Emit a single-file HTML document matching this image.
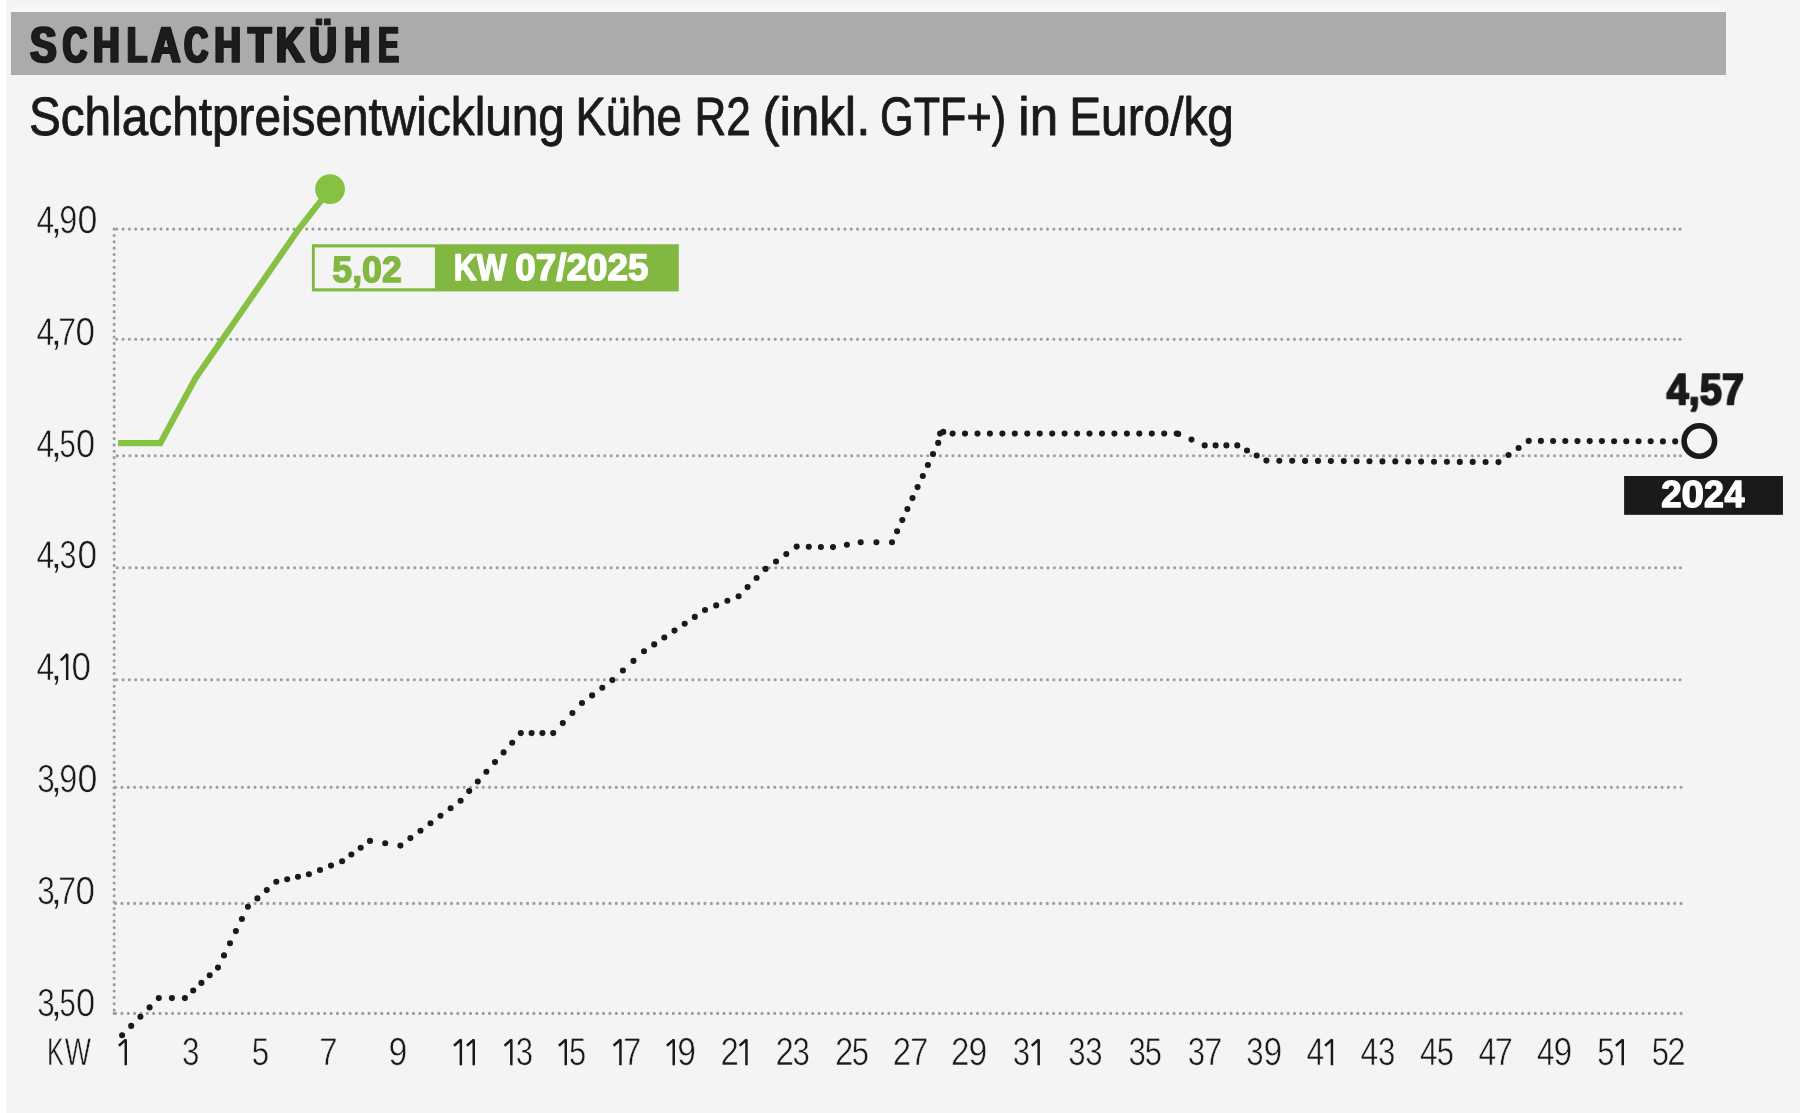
<!DOCTYPE html>
<html lang="de">
<head>
<meta charset="utf-8">
<title>Schlachtkühe – Schlachtpreisentwicklung</title>
<style>html,body{margin:0;padding:0;background:#f4f4f4;}body{width:1800px;height:1113px;overflow:hidden;font-family:"Liberation Sans",sans-serif;}svg{display:block;will-change:transform;}</style>
</head>
<body>
<svg width="1800" height="1113" viewBox="0 0 1800 1113" font-family="'Liberation Sans', sans-serif" text-rendering="geometricPrecision">
<rect width="1800" height="1113" fill="#f4f4f4"/>
<g opacity="0.999">
<defs><filter id="hd" x="-5%" y="-20%" width="110%" height="140%"><feMorphology operator="dilate" radius="1 0"/></filter></defs>
<rect x="0" y="0" width="6.5" height="1113" fill="#ffffff"/>
<rect x="11" y="6.5" width="1715" height="6" fill="#faf8f6"/>
<rect x="11" y="12" width="1715" height="63" fill="#ababab"/>
<g filter="url(#hd)">
<text transform="translate(30.32 61.50) scale(0.7838 1)" font-size="50.18" font-weight="700" fill="#1a1a1a" stroke="#1a1a1a" stroke-width="1.4" stroke-linejoin="round" vector-effect="non-scaling-stroke">S</text>
<text transform="translate(62.76 61.50) scale(0.6693 1)" font-size="50.18" font-weight="700" fill="#1a1a1a" stroke="#1a1a1a" stroke-width="1.4" stroke-linejoin="round" vector-effect="non-scaling-stroke">C</text>
<text transform="translate(93.14 61.50) scale(0.7259 1)" font-size="50.18" font-weight="700" fill="#1a1a1a" stroke="#1a1a1a" stroke-width="1.4" stroke-linejoin="round" vector-effect="non-scaling-stroke">H</text>
<text transform="translate(127.09 61.50) scale(0.6533 1)" font-size="50.18" font-weight="700" fill="#1a1a1a" stroke="#1a1a1a" stroke-width="1.4" stroke-linejoin="round" vector-effect="non-scaling-stroke">L</text>
<text transform="translate(151.60 61.50) scale(0.7971 1)" font-size="50.18" font-weight="700" fill="#1a1a1a" stroke="#1a1a1a" stroke-width="1.4" stroke-linejoin="round" vector-effect="non-scaling-stroke">A</text>
<text transform="translate(184.28 61.50) scale(0.6572 1)" font-size="50.18" font-weight="700" fill="#1a1a1a" stroke="#1a1a1a" stroke-width="1.4" stroke-linejoin="round" vector-effect="non-scaling-stroke">C</text>
<text transform="translate(214.44 61.50) scale(0.7259 1)" font-size="50.18" font-weight="700" fill="#1a1a1a" stroke="#1a1a1a" stroke-width="1.4" stroke-linejoin="round" vector-effect="non-scaling-stroke">H</text>
<text transform="translate(248.32 61.50) scale(0.7498 1)" font-size="50.18" font-weight="700" fill="#1a1a1a" stroke="#1a1a1a" stroke-width="1.4" stroke-linejoin="round" vector-effect="non-scaling-stroke">T</text>
<text transform="translate(276.06 61.50) scale(0.7786 1)" font-size="50.18" font-weight="700" fill="#1a1a1a" stroke="#1a1a1a" stroke-width="1.4" stroke-linejoin="round" vector-effect="non-scaling-stroke">K</text>
<text transform="translate(309.43 61.50) scale(0.7540 1)" font-size="50.18" font-weight="700" fill="#1a1a1a" stroke="#1a1a1a" stroke-width="1.4" stroke-linejoin="round" vector-effect="non-scaling-stroke">Ü</text>
<text transform="translate(344.51 61.50) scale(0.7055 1)" font-size="50.18" font-weight="700" fill="#1a1a1a" stroke="#1a1a1a" stroke-width="1.4" stroke-linejoin="round" vector-effect="non-scaling-stroke">H</text>
<text transform="translate(378.56 61.50) scale(0.6014 1)" font-size="50.18" font-weight="700" fill="#1a1a1a" stroke="#1a1a1a" stroke-width="1.4" stroke-linejoin="round" vector-effect="non-scaling-stroke">E</text>
</g>
<text transform="translate(28.90 134.55) scale(0.8840 1)" font-size="54.0" fill="#1a1a1a" stroke="#1a1a1a" stroke-width="0.9" stroke-linejoin="round" vector-effect="non-scaling-stroke">Schlachtpreisentwicklung</text>
<text transform="translate(575.39 134.55) scale(0.8430 1)" font-size="54.0" fill="#1a1a1a" stroke="#1a1a1a" stroke-width="0.9" stroke-linejoin="round" vector-effect="non-scaling-stroke">Kühe</text>
<text transform="translate(694.52 134.55) scale(0.8151 1)" font-size="54.0" fill="#1a1a1a" stroke="#1a1a1a" stroke-width="0.9" stroke-linejoin="round" vector-effect="non-scaling-stroke">R2</text>
<text transform="translate(762.56 134.55) scale(0.9460 1)" font-size="54.0" fill="#1a1a1a" stroke="#1a1a1a" stroke-width="0.9" stroke-linejoin="round" vector-effect="non-scaling-stroke">(inkl.</text>
<text transform="translate(880.09 134.55) scale(0.8002 1)" font-size="54.0" fill="#1a1a1a" stroke="#1a1a1a" stroke-width="0.9" stroke-linejoin="round" vector-effect="non-scaling-stroke">GTF+)</text>
<text transform="translate(1018.30 134.55) scale(0.9475 1)" font-size="54.0" fill="#1a1a1a" stroke="#1a1a1a" stroke-width="0.9" stroke-linejoin="round" vector-effect="non-scaling-stroke">in</text>
<text transform="translate(1069.21 134.55) scale(0.8850 1)" font-size="54.0" fill="#1a1a1a" stroke="#1a1a1a" stroke-width="0.9" stroke-linejoin="round" vector-effect="non-scaling-stroke">Euro/kg</text>
<g stroke="#9c9c9c" stroke-width="3.1" stroke-linecap="round" fill="none">
<path d="M114.15 229.1V1010.2" stroke-dasharray="0 6.34902"/>
<path d="M114.15 1013.4h0"/>
<path d="M116.73 229.1H1674.42" stroke-dasharray="0 6.33187"/>
<path d="M1680.0 229.1h0"/>
<path d="M116.73 339.3H1674.42" stroke-dasharray="0 6.33187"/>
<path d="M1680.0 339.3h0"/>
<path d="M117.27 455.8H1674.87" stroke-dasharray="0 6.33150"/>
<path d="M1680.4 455.8h0"/>
<path d="M117.27 567.7H1674.87" stroke-dasharray="0 6.33150"/>
<path d="M1680.4 567.7h0"/>
<path d="M116.73 679.7H1674.42" stroke-dasharray="0 6.33187"/>
<path d="M1680.0 679.7h0"/>
<path d="M115.6 787.3H1681.11" stroke-dasharray="0 6.33789"/>
<path d="M115.6 903.4H1681.11" stroke-dasharray="0 6.33789"/>
<path d="M115.6 1013.4H1681.11" stroke-dasharray="0 6.33789"/>
</g>
<text transform="translate(36.58 233.20) scale(0.8175 1)" font-size="39" fill="#1a1a1a" stroke="#f4f4f4" stroke-width="0.55" vector-effect="non-scaling-stroke">4</text>
<text transform="translate(49.94 233.20) scale(1.1571 1)" font-size="39" fill="#1a1a1a" stroke="#f4f4f4" stroke-width="0.55" vector-effect="non-scaling-stroke">,</text>
<text transform="translate(59.16 233.20) scale(0.8316 1)" font-size="39" fill="#1a1a1a" stroke="#f4f4f4" stroke-width="0.55" vector-effect="non-scaling-stroke">9</text>
<text transform="translate(77.57 233.20) scale(0.9182 1)" font-size="39" fill="#1a1a1a" stroke="#f4f4f4" stroke-width="0.55" vector-effect="non-scaling-stroke">0</text>
<text transform="translate(36.58 344.60) scale(0.8175 1)" font-size="39" fill="#1a1a1a" stroke="#f4f4f4" stroke-width="0.55" vector-effect="non-scaling-stroke">4</text>
<text transform="translate(49.94 344.60) scale(1.1571 1)" font-size="39" fill="#1a1a1a" stroke="#f4f4f4" stroke-width="0.55" vector-effect="non-scaling-stroke">,</text>
<text transform="translate(58.32 344.60) scale(0.8216 1)" font-size="39" fill="#1a1a1a" stroke="#f4f4f4" stroke-width="0.55" vector-effect="non-scaling-stroke">7</text>
<text transform="translate(75.40 344.60) scale(0.8968 1)" font-size="39" fill="#1a1a1a" stroke="#f4f4f4" stroke-width="0.55" vector-effect="non-scaling-stroke">0</text>
<text transform="translate(36.58 457.00) scale(0.8175 1)" font-size="39" fill="#1a1a1a" stroke="#f4f4f4" stroke-width="0.55" vector-effect="non-scaling-stroke">4</text>
<text transform="translate(49.94 457.00) scale(1.1571 1)" font-size="39" fill="#1a1a1a" stroke="#f4f4f4" stroke-width="0.55" vector-effect="non-scaling-stroke">,</text>
<text transform="translate(59.53 457.00) scale(0.7503 1)" font-size="39" fill="#1a1a1a" stroke="#f4f4f4" stroke-width="0.55" vector-effect="non-scaling-stroke">5</text>
<text transform="translate(76.03 457.00) scale(0.8807 1)" font-size="39" fill="#1a1a1a" stroke="#f4f4f4" stroke-width="0.55" vector-effect="non-scaling-stroke">0</text>
<text transform="translate(36.58 568.30) scale(0.8175 1)" font-size="39" fill="#1a1a1a" stroke="#f4f4f4" stroke-width="0.55" vector-effect="non-scaling-stroke">4</text>
<text transform="translate(49.94 568.30) scale(1.1571 1)" font-size="39" fill="#1a1a1a" stroke="#f4f4f4" stroke-width="0.55" vector-effect="non-scaling-stroke">,</text>
<text transform="translate(59.56 568.30) scale(0.7827 1)" font-size="39" fill="#1a1a1a" stroke="#f4f4f4" stroke-width="0.55" vector-effect="non-scaling-stroke">3</text>
<text transform="translate(77.59 568.30) scale(0.9021 1)" font-size="39" fill="#1a1a1a" stroke="#f4f4f4" stroke-width="0.55" vector-effect="non-scaling-stroke">0</text>
<text transform="translate(36.58 679.90) scale(0.8175 1)" font-size="39" fill="#1a1a1a" stroke="#f4f4f4" stroke-width="0.55" vector-effect="non-scaling-stroke">4</text>
<text transform="translate(49.94 679.90) scale(1.1571 1)" font-size="39" fill="#1a1a1a" stroke="#f4f4f4" stroke-width="0.55" vector-effect="non-scaling-stroke">,</text>
<path d="M67.15 679.90V654.20L60.80 660.40" stroke="#1a1a1a" stroke-width="2.5" fill="none" stroke-linejoin="miter" stroke-miterlimit="2"/>
<text transform="translate(71.50 679.90) scale(0.8968 1)" font-size="39" fill="#1a1a1a" stroke="#f4f4f4" stroke-width="0.55" vector-effect="non-scaling-stroke">0</text>
<text transform="translate(37.22 792.40) scale(0.8097 1)" font-size="39" fill="#1a1a1a" stroke="#f4f4f4" stroke-width="0.55" vector-effect="non-scaling-stroke">3</text>
<text transform="translate(49.94 792.40) scale(1.1571 1)" font-size="39" fill="#1a1a1a" stroke="#f4f4f4" stroke-width="0.55" vector-effect="non-scaling-stroke">,</text>
<text transform="translate(59.16 792.40) scale(0.8316 1)" font-size="39" fill="#1a1a1a" stroke="#f4f4f4" stroke-width="0.55" vector-effect="non-scaling-stroke">9</text>
<text transform="translate(77.57 792.40) scale(0.9182 1)" font-size="39" fill="#1a1a1a" stroke="#f4f4f4" stroke-width="0.55" vector-effect="non-scaling-stroke">0</text>
<text transform="translate(37.22 903.70) scale(0.8097 1)" font-size="39" fill="#1a1a1a" stroke="#f4f4f4" stroke-width="0.55" vector-effect="non-scaling-stroke">3</text>
<text transform="translate(49.94 903.70) scale(1.1571 1)" font-size="39" fill="#1a1a1a" stroke="#f4f4f4" stroke-width="0.55" vector-effect="non-scaling-stroke">,</text>
<text transform="translate(58.32 903.70) scale(0.8216 1)" font-size="39" fill="#1a1a1a" stroke="#f4f4f4" stroke-width="0.55" vector-effect="non-scaling-stroke">7</text>
<text transform="translate(75.40 903.70) scale(0.8968 1)" font-size="39" fill="#1a1a1a" stroke="#f4f4f4" stroke-width="0.55" vector-effect="non-scaling-stroke">0</text>
<text transform="translate(37.22 1016.00) scale(0.8097 1)" font-size="39" fill="#1a1a1a" stroke="#f4f4f4" stroke-width="0.55" vector-effect="non-scaling-stroke">3</text>
<text transform="translate(49.94 1016.00) scale(1.1571 1)" font-size="39" fill="#1a1a1a" stroke="#f4f4f4" stroke-width="0.55" vector-effect="non-scaling-stroke">,</text>
<text transform="translate(59.53 1016.00) scale(0.7503 1)" font-size="39" fill="#1a1a1a" stroke="#f4f4f4" stroke-width="0.55" vector-effect="non-scaling-stroke">5</text>
<text transform="translate(76.03 1016.00) scale(0.8807 1)" font-size="39" fill="#1a1a1a" stroke="#f4f4f4" stroke-width="0.55" vector-effect="non-scaling-stroke">0</text>
<text transform="translate(47.12 1065.30) scale(0.6449 1)" font-size="39" fill="#1a1a1a" stroke="#f4f4f4" stroke-width="0.55" vector-effect="non-scaling-stroke">K</text>
<text transform="translate(64.86 1065.30) scale(0.7130 1)" font-size="39" fill="#1a1a1a" stroke="#f4f4f4" stroke-width="0.55" vector-effect="non-scaling-stroke">W</text>
<path d="M125.75 1065.30V1039.60L118.90 1045.80" stroke="#1a1a1a" stroke-width="2.5" fill="none" stroke-linejoin="miter" stroke-miterlimit="2"/>
<text transform="translate(182.12 1065.30) scale(0.8043 1)" font-size="39" fill="#1a1a1a" stroke="#f4f4f4" stroke-width="0.55" vector-effect="non-scaling-stroke">3</text>
<text transform="translate(251.65 1065.30) scale(0.8043 1)" font-size="39" fill="#1a1a1a" stroke="#f4f4f4" stroke-width="0.55" vector-effect="non-scaling-stroke">5</text>
<text transform="translate(319.37 1065.30) scale(0.8443 1)" font-size="39" fill="#1a1a1a" stroke="#f4f4f4" stroke-width="0.55" vector-effect="non-scaling-stroke">7</text>
<text transform="translate(388.40 1065.30) scale(0.8649 1)" font-size="39" fill="#1a1a1a" stroke="#f4f4f4" stroke-width="0.55" vector-effect="non-scaling-stroke">9</text>
<path d="M460.85 1065.30V1039.60L454.00 1045.80" stroke="#1a1a1a" stroke-width="2.5" fill="none" stroke-linejoin="miter" stroke-miterlimit="2"/>
<path d="M473.75 1065.30V1039.60L466.90 1045.80" stroke="#1a1a1a" stroke-width="2.5" fill="none" stroke-linejoin="miter" stroke-miterlimit="2"/>
<path d="M511.35 1065.30V1039.60L504.50 1045.80" stroke="#1a1a1a" stroke-width="2.5" fill="none" stroke-linejoin="miter" stroke-miterlimit="2"/>
<text transform="translate(515.63 1065.30) scale(0.7989 1)" font-size="39" fill="#1a1a1a" stroke="#f4f4f4" stroke-width="0.55" vector-effect="non-scaling-stroke">3</text>
<path d="M565.75 1065.30V1039.60L558.90 1045.80" stroke="#1a1a1a" stroke-width="2.5" fill="none" stroke-linejoin="miter" stroke-miterlimit="2"/>
<text transform="translate(568.96 1065.30) scale(0.7935 1)" font-size="39" fill="#1a1a1a" stroke="#f4f4f4" stroke-width="0.55" vector-effect="non-scaling-stroke">5</text>
<path d="M620.45 1065.30V1039.60L613.60 1045.80" stroke="#1a1a1a" stroke-width="2.5" fill="none" stroke-linejoin="miter" stroke-miterlimit="2"/>
<text transform="translate(623.19 1065.30) scale(0.8330 1)" font-size="39" fill="#1a1a1a" stroke="#f4f4f4" stroke-width="0.55" vector-effect="non-scaling-stroke">7</text>
<path d="M673.75 1065.30V1039.60L666.90 1045.80" stroke="#1a1a1a" stroke-width="2.5" fill="none" stroke-linejoin="miter" stroke-miterlimit="2"/>
<text transform="translate(677.31 1065.30) scale(0.8593 1)" font-size="39" fill="#1a1a1a" stroke="#f4f4f4" stroke-width="0.55" vector-effect="non-scaling-stroke">9</text>
<text transform="translate(720.55 1065.30) scale(0.8453 1)" font-size="39" fill="#1a1a1a" stroke="#f4f4f4" stroke-width="0.55" vector-effect="non-scaling-stroke">2</text>
<path d="M746.45 1065.30V1039.60L739.60 1045.80" stroke="#1a1a1a" stroke-width="2.5" fill="none" stroke-linejoin="miter" stroke-miterlimit="2"/>
<text transform="translate(775.45 1065.30) scale(0.8453 1)" font-size="39" fill="#1a1a1a" stroke="#f4f4f4" stroke-width="0.55" vector-effect="non-scaling-stroke">2</text>
<text transform="translate(792.43 1065.30) scale(0.7989 1)" font-size="39" fill="#1a1a1a" stroke="#f4f4f4" stroke-width="0.55" vector-effect="non-scaling-stroke">3</text>
<text transform="translate(835.05 1065.30) scale(0.8453 1)" font-size="39" fill="#1a1a1a" stroke="#f4f4f4" stroke-width="0.55" vector-effect="non-scaling-stroke">2</text>
<text transform="translate(851.86 1065.30) scale(0.7935 1)" font-size="39" fill="#1a1a1a" stroke="#f4f4f4" stroke-width="0.55" vector-effect="non-scaling-stroke">5</text>
<text transform="translate(892.75 1065.30) scale(0.8453 1)" font-size="39" fill="#1a1a1a" stroke="#f4f4f4" stroke-width="0.55" vector-effect="non-scaling-stroke">2</text>
<text transform="translate(910.29 1065.30) scale(0.8330 1)" font-size="39" fill="#1a1a1a" stroke="#f4f4f4" stroke-width="0.55" vector-effect="non-scaling-stroke">7</text>
<text transform="translate(951.05 1065.30) scale(0.8453 1)" font-size="39" fill="#1a1a1a" stroke="#f4f4f4" stroke-width="0.55" vector-effect="non-scaling-stroke">2</text>
<text transform="translate(968.51 1065.30) scale(0.8593 1)" font-size="39" fill="#1a1a1a" stroke="#f4f4f4" stroke-width="0.55" vector-effect="non-scaling-stroke">9</text>
<text transform="translate(1012.83 1065.30) scale(0.7989 1)" font-size="39" fill="#1a1a1a" stroke="#f4f4f4" stroke-width="0.55" vector-effect="non-scaling-stroke">3</text>
<path d="M1038.65 1065.30V1039.60L1031.80 1045.80" stroke="#1a1a1a" stroke-width="2.5" fill="none" stroke-linejoin="miter" stroke-miterlimit="2"/>
<text transform="translate(1068.13 1065.30) scale(0.7989 1)" font-size="39" fill="#1a1a1a" stroke="#f4f4f4" stroke-width="0.55" vector-effect="non-scaling-stroke">3</text>
<text transform="translate(1085.13 1065.30) scale(0.7989 1)" font-size="39" fill="#1a1a1a" stroke="#f4f4f4" stroke-width="0.55" vector-effect="non-scaling-stroke">3</text>
<text transform="translate(1128.43 1065.30) scale(0.7989 1)" font-size="39" fill="#1a1a1a" stroke="#f4f4f4" stroke-width="0.55" vector-effect="non-scaling-stroke">3</text>
<text transform="translate(1144.76 1065.30) scale(0.7935 1)" font-size="39" fill="#1a1a1a" stroke="#f4f4f4" stroke-width="0.55" vector-effect="non-scaling-stroke">5</text>
<text transform="translate(1187.73 1065.30) scale(0.7989 1)" font-size="39" fill="#1a1a1a" stroke="#f4f4f4" stroke-width="0.55" vector-effect="non-scaling-stroke">3</text>
<text transform="translate(1204.29 1065.30) scale(0.8330 1)" font-size="39" fill="#1a1a1a" stroke="#f4f4f4" stroke-width="0.55" vector-effect="non-scaling-stroke">7</text>
<text transform="translate(1246.13 1065.30) scale(0.7989 1)" font-size="39" fill="#1a1a1a" stroke="#f4f4f4" stroke-width="0.55" vector-effect="non-scaling-stroke">3</text>
<text transform="translate(1263.61 1065.30) scale(0.8593 1)" font-size="39" fill="#1a1a1a" stroke="#f4f4f4" stroke-width="0.55" vector-effect="non-scaling-stroke">9</text>
<text transform="translate(1306.39 1065.30) scale(0.8124 1)" font-size="39" fill="#1a1a1a" stroke="#f4f4f4" stroke-width="0.55" vector-effect="non-scaling-stroke">4</text>
<path d="M1331.95 1065.30V1039.60L1325.10 1045.80" stroke="#1a1a1a" stroke-width="2.5" fill="none" stroke-linejoin="miter" stroke-miterlimit="2"/>
<text transform="translate(1360.39 1065.30) scale(0.8124 1)" font-size="39" fill="#1a1a1a" stroke="#f4f4f4" stroke-width="0.55" vector-effect="non-scaling-stroke">4</text>
<text transform="translate(1378.03 1065.30) scale(0.7989 1)" font-size="39" fill="#1a1a1a" stroke="#f4f4f4" stroke-width="0.55" vector-effect="non-scaling-stroke">3</text>
<text transform="translate(1419.99 1065.30) scale(0.8124 1)" font-size="39" fill="#1a1a1a" stroke="#f4f4f4" stroke-width="0.55" vector-effect="non-scaling-stroke">4</text>
<text transform="translate(1436.76 1065.30) scale(0.7935 1)" font-size="39" fill="#1a1a1a" stroke="#f4f4f4" stroke-width="0.55" vector-effect="non-scaling-stroke">5</text>
<text transform="translate(1478.59 1065.30) scale(0.8124 1)" font-size="39" fill="#1a1a1a" stroke="#f4f4f4" stroke-width="0.55" vector-effect="non-scaling-stroke">4</text>
<text transform="translate(1494.69 1065.30) scale(0.8330 1)" font-size="39" fill="#1a1a1a" stroke="#f4f4f4" stroke-width="0.55" vector-effect="non-scaling-stroke">7</text>
<text transform="translate(1537.09 1065.30) scale(0.8124 1)" font-size="39" fill="#1a1a1a" stroke="#f4f4f4" stroke-width="0.55" vector-effect="non-scaling-stroke">4</text>
<text transform="translate(1553.61 1065.30) scale(0.8593 1)" font-size="39" fill="#1a1a1a" stroke="#f4f4f4" stroke-width="0.55" vector-effect="non-scaling-stroke">9</text>
<text transform="translate(1597.16 1065.30) scale(0.7935 1)" font-size="39" fill="#1a1a1a" stroke="#f4f4f4" stroke-width="0.55" vector-effect="non-scaling-stroke">5</text>
<path d="M1622.75 1065.30V1039.60L1615.90 1045.80" stroke="#1a1a1a" stroke-width="2.5" fill="none" stroke-linejoin="miter" stroke-miterlimit="2"/>
<text transform="translate(1651.66 1065.30) scale(0.7935 1)" font-size="39" fill="#1a1a1a" stroke="#f4f4f4" stroke-width="0.55" vector-effect="non-scaling-stroke">5</text>
<text transform="translate(1667.35 1065.30) scale(0.8453 1)" font-size="39" fill="#1a1a1a" stroke="#f4f4f4" stroke-width="0.55" vector-effect="non-scaling-stroke">2</text>
<path d="M122.1 1035.2h0M131.2 1025.9h0M140.4 1016.7h0M149.6 1007.4h0M158.8 998.1h0M171.9 998.1h0M184.9 998.1h0M193.2 990.5h0M201.4 982.9h0M209.7 975.2h0M218.0 967.6h0M224.0 955.4h0M230.0 943.3h0M235.9 931.1h0M241.9 919.0h0M247.9 906.8h0M257.4 898.4h0M266.8 890.1h0M276.3 881.7h0M287.2 879.2h0M298.0 876.8h0M308.9 874.3h0M320.0 870.0h0M331.0 865.6h0M342.1 861.3h0M351.4 854.5h0M360.7 847.7h0M370.0 840.9h0M385.2 843.2h0M400.4 845.6h0M410.4 838.1h0M420.5 830.7h0M430.5 823.2h0M440.5 815.7h0M450.6 808.3h0M460.6 800.8h0M469.2 791.1h0M477.8 781.5h0M486.4 771.8h0M495.0 762.1h0M503.6 752.4h0M512.2 742.8h0M520.8 733.1h0M531.6 733.1h0M542.4 733.1h0M553.2 733.1h0M562.8 723.1h0M572.4 713.0h0M582.0 703.0h0M592.1 695.4h0M602.3 687.7h0M612.4 680.1h0M622.9 670.5h0M633.5 660.9h0M644.0 651.3h0M654.2 644.4h0M664.3 637.5h0M674.5 630.6h0M684.7 623.8h0M694.8 616.9h0M705.0 610.0h0M716.2 605.4h0M727.4 600.8h0M738.6 596.2h0M747.6 587.1h0M756.6 578.0h0M765.6 568.9h0M776.0 561.5h0M786.3 554.1h0M796.7 546.6h0M808.8 546.8h0M820.9 547.0h0M833.0 547.1h0M846.9 544.7h0M860.7 542.2h0M876.4 542.2h0M892.0 542.2h0M897.1 531.2h0M902.3 520.1h0M907.4 509.1h0M912.5 498.1h0M917.6 487.1h0M922.8 476.0h0M927.9 465.0h0M933.0 454.0h0M938.2 442.9h0M943.3 431.9h0M940.1 433.6h0M952.6 433.6h0M965.0 433.6h0M977.5 433.6h0M989.9 433.6h0M1002.4 433.6h0M1014.8 433.6h0M1027.3 433.6h0M1039.7 433.6h0M1052.2 433.6h0M1064.6 433.6h0M1077.1 433.6h0M1089.5 433.6h0M1102.0 433.6h0M1114.4 433.6h0M1126.9 433.6h0M1139.3 433.6h0M1151.8 433.6h0M1164.2 433.6h0M1176.7 433.6h0M1178.2 433.9h0M1191.5 439.6h0M1204.7 445.4h0M1215.6 445.4h0M1226.4 445.4h0M1237.3 445.4h0M1247.0 450.5h0M1256.7 455.5h0M1266.4 460.6h0M1279.3 460.7h0M1292.2 460.8h0M1305.1 460.9h0M1318.0 460.9h0M1330.9 461.0h0M1343.8 461.1h0M1356.6 461.2h0M1369.5 461.3h0M1382.4 461.4h0M1395.3 461.4h0M1408.2 461.5h0M1421.1 461.6h0M1434.0 461.7h0M1446.9 461.8h0M1459.8 461.9h0M1472.7 461.9h0M1485.6 462.0h0M1498.5 462.1h0M1508.5 455.0h0M1518.6 448.0h0M1528.7 440.9h0M1540.9 440.9h0M1553.1 441.0h0M1565.3 441.0h0M1577.5 441.1h0M1589.7 441.1h0M1601.9 441.1h0M1614.1 441.2h0M1626.3 441.2h0M1638.5 441.3h0M1650.7 441.3h0M1662.9 441.4h0M1675.2 441.4h0" stroke="#1a1a1a" stroke-width="6.1" stroke-linecap="round" fill="none"/>
<circle cx="1699.35" cy="441" r="15.25" fill="#f4f4f4" stroke="#1a1a1a" stroke-width="5.6"/>
<text transform="translate(1666.60 404.20) scale(0.9105 1)" font-size="43.64" font-weight="700" fill="#1a1a1a" stroke="#1a1a1a" stroke-width="2.0" stroke-linejoin="round" vector-effect="non-scaling-stroke">4,57</text>
<rect x="1624.1" y="476" width="158.85" height="38.85" fill="#1a1a1a"/>
<text transform="translate(1661.22 507.32) scale(0.9716 1)" font-size="37.74" font-weight="700" fill="#ffffff" stroke="#ffffff" stroke-width="1.4" stroke-linejoin="round" vector-effect="non-scaling-stroke">2</text>
<text transform="translate(1681.58 507.32) scale(1.0710 1)" font-size="37.74" font-weight="700" fill="#ffffff" stroke="#ffffff" stroke-width="1.4" stroke-linejoin="round" vector-effect="non-scaling-stroke">0</text>
<text transform="translate(1703.95 507.32) scale(0.9495 1)" font-size="37.74" font-weight="700" fill="#ffffff" stroke="#ffffff" stroke-width="1.4" stroke-linejoin="round" vector-effect="non-scaling-stroke">2</text>
<text transform="translate(1724.46 507.32) scale(0.9484 1)" font-size="37.74" font-weight="700" fill="#ffffff" stroke="#ffffff" stroke-width="1.4" stroke-linejoin="round" vector-effect="non-scaling-stroke">4</text>
<path d="M118.05 443.2H160.3L195.3 378.6L298.6 229.3L330.05 189.1" stroke="#87c143" stroke-width="6.2" fill="none" stroke-linejoin="miter"/>
<circle cx="330.05" cy="189.1" r="14.9" fill="#87c143"/>
<rect x="311.9" y="244.3" width="366.9" height="47.1" fill="#82b741"/>
<rect x="314.8" y="247.4" width="120.1" height="40.9" fill="#f4f4f4"/>
<text transform="translate(332.28 282.43) scale(0.9762 1)" font-size="36.61" font-weight="700" fill="#82b741" stroke="#82b741" stroke-width="1.4" stroke-linejoin="round" vector-effect="non-scaling-stroke">5,02</text>
<text transform="translate(453.86 280.40) scale(0.8506 1)" font-size="37.31" font-weight="700" fill="#ffffff" stroke="#ffffff" stroke-width="1.4" stroke-linejoin="round" vector-effect="non-scaling-stroke">KW</text>
<text transform="translate(515.33 280.40) scale(0.9874 1)" font-size="37.31" font-weight="700" fill="#ffffff" stroke="#ffffff" stroke-width="1.4" stroke-linejoin="round" vector-effect="non-scaling-stroke">07/2025</text>
</g>
</svg>
</body>
</html>
